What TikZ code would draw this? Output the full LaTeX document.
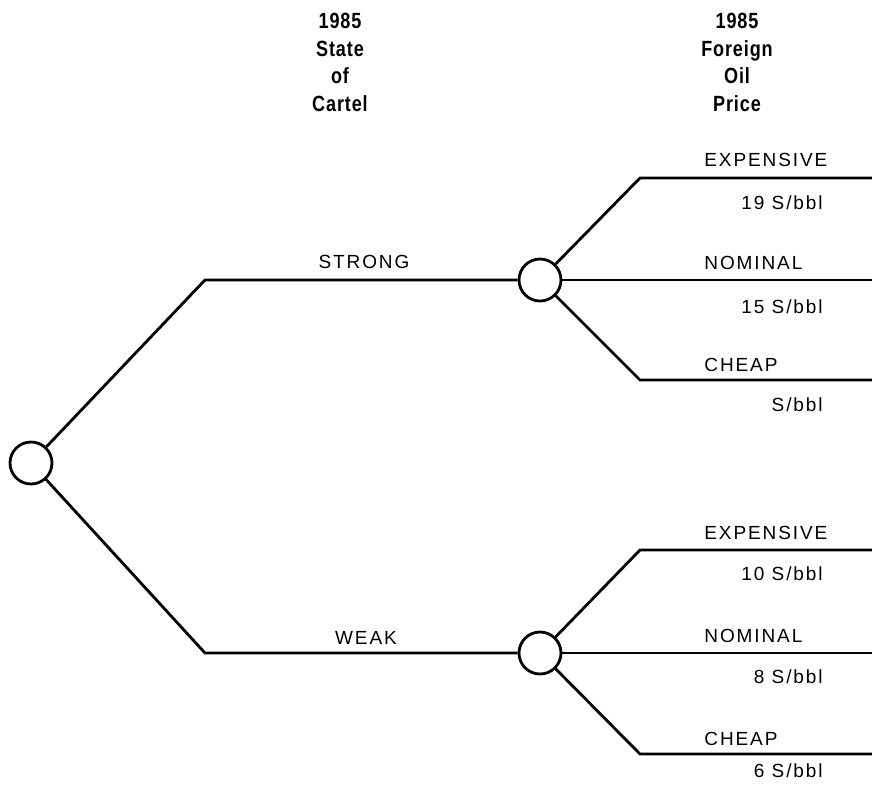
\documentclass[tikz,border=0pt]{standalone}
\usepackage{fontspec}
\setmainfont{Liberation Sans}
\newfontfamily\headfont[FakeStretch=0.82,LetterSpace=4]{Liberation Sans}
\newfontfamily\lblfont[LetterSpace=10]{Liberation Sans}
\usetikzlibrary{positioning}

\begin{document}
\begin{tikzpicture}[x=0.5pt,y=-0.5pt,line width=1.4pt,
  chance/.style={draw,circle,fill=white,minimum size=21pt,inner sep=0pt},
  branch/.style={font=\lblfont\fontsize{9.5}{11}\selectfont,inner sep=1pt},
  outcome/.style={font=\lblfont\fontsize{9.5}{11}\selectfont,anchor=west,inner sep=0pt},
  payoff/.style={font=\lblfont\fontsize{9.5}{11}\selectfont,anchor=east,inner sep=0pt},
  head/.style={font=\headfont\bfseries\fontsize{11}{13.8}\selectfont,align=center,
               anchor=north,inner sep=0pt}]
  \useasboundingbox (0,0) rectangle (872,794);
  % column headings
  \node[head] (hcartel) at (340,12) {1985\\State\\of\\Cartel};
  \node[head] (hprice) at (737,12) {1985\\Foreign\\Oil\\Price};
  % chance nodes
  \node[chance] (root) at (31,463) {};
  \node[chance] (strong) at (540,280) {};
  \node[chance] (weak) at (540,653) {};
  \coordinate (sbend) at (205,280);
  \coordinate (wbend) at (205,653);
  \draw (root) -- (sbend) -- (strong);
  \draw (root) -- (wbend) -- (weak);
  \node[branch] (lstrong) at (364,262) {STRONG};
  \node[branch] (lweak) at (366,638) {WEAK};
  % oil price outcomes, strong cartel
  \coordinate (sexp) at (640,178);  \coordinate (sexpend) at (872,178);
  \coordinate (snomend) at (872,280);
  \coordinate (scheap) at (640,380); \coordinate (scheapend) at (872,380);
  \draw (strong) -- (sexp) -- (sexpend);
  \draw (strong) -- (snomend);
  \draw (strong) -- (scheap) -- (scheapend);
  \node[outcome] (o1) at (703,160) {EXPENSIVE};
  \node[payoff] (p1) at (824,203) {19 S/bbl};
  \node[outcome] (o2) at (703,263) {NOMINAL};
  \node[payoff] (p2) at (824,307) {15 S/bbl};
  \node[outcome] (o3) at (703,365) {CHEAP};
  \node[payoff] (p3) at (824,405) {S/bbl};
  % oil price outcomes, weak cartel
  \coordinate (wexp) at (640,550);  \coordinate (wexpend) at (872,550);
  \coordinate (wnomend) at (872,653);
  \coordinate (wcheap) at (640,754); \coordinate (wcheapend) at (872,754);
  \draw (weak) -- (wexp) -- (wexpend);
  \draw (weak) -- (wnomend);
  \draw (weak) -- (wcheap) -- (wcheapend);
  \node[outcome] (o4) at (703,533) {EXPENSIVE};
  \node[payoff] (p4) at (824,574) {10 S/bbl};
  \node[outcome] (o5) at (703,636) {NOMINAL};
  \node[payoff] (p5) at (824,677) {8 S/bbl};
  \node[outcome] (o6) at (703,739) {CHEAP};
  \node[payoff] (p6) at (824,771) {6 S/bbl};
\end{tikzpicture}
\end{document}
